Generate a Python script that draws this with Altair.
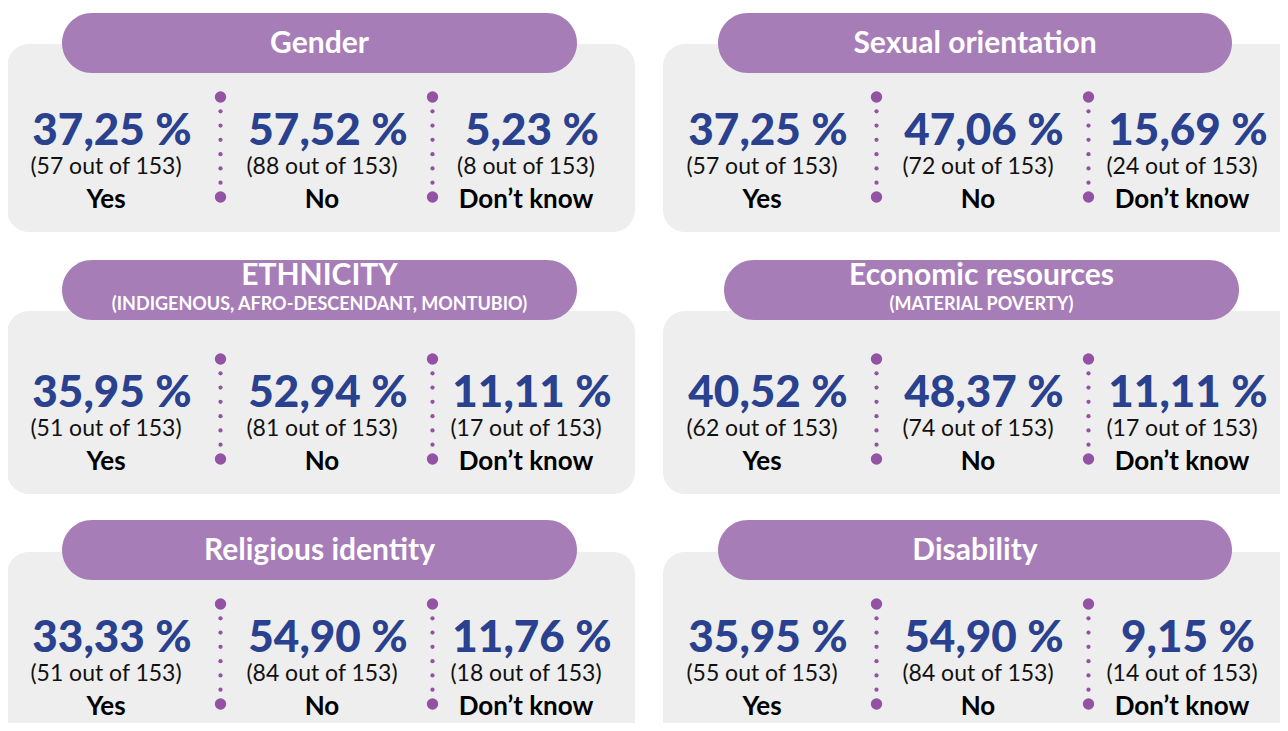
import altair as alt
import pandas as pd

# ---------------- data ----------------
categories = ["Gender", "Sexual orientation", "ETHNICITY", "Economic resources",
              "Religious identity", "Disability"]
subtitles = ["", "", "(INDIGENOUS, AFRO-DESCENDANT, MONTUBIO)", "(MATERIAL POVERTY)", "", ""]
answers = ["Yes", "No", "Don\u2019t know"]
yes_pct = [37.25, 37.25, 35.95, 40.52, 33.33, 35.95]
no_pct = [57.52, 47.06, 52.94, 48.37, 54.90, 54.90]
dk_pct = [5.23, 15.69, 11.11, 11.11, 11.76, 9.15]
yes_n = [57, 57, 51, 62, 51, 55]
no_n = [88, 72, 81, 74, 84, 84]
dk_n = [8, 24, 17, 17, 18, 14]
total = 153

# ---------------- layout ----------------
W, H = 1272, 715
col_dx = [0, 656]
row_dy = [0, 262, 507]
box_top = [44, 311, 552]
box_bot = [232, 494, 745]
pill_top = [13, 260, 520]
pill_h = 60
pill_x = {(0, 0): (62, 577), (0, 1): (718, 1232), (1, 0): (62, 577),
          (1, 1): (724, 1239), (2, 0): (62, 577), (2, 1): (718, 1232)}
box_x = [(7, 635), (663, 1300)]
col_cx = [106, 322, 526]
pct_shift = 6
sep_x = [220.5, 432.5]

boxes, pills, dots, texts = [], [], [], []
for i, cat in enumerate(categories):
    r, c = divmod(i, 2)
    dx, dy = col_dx[c], row_dy[r]
    boxes.append(dict(x=box_x[c][0], x2=box_x[c][1], y=box_top[r], y2=box_bot[r]))
    px0, px1 = pill_x[(r, c)]
    pills.append(dict(x=px0, x2=px1, y=pill_top[r], y2=pill_top[r] + pill_h))
    pcx = (px0 + px1) / 2
    if subtitles[i]:
        texts.append(dict(x=pcx, y=pill_top[r] + 25, t=cat, kind="title"))
        texts.append(dict(x=pcx, y=pill_top[r] + 50, t=subtitles[i], kind="sub"))
    else:
        texts.append(dict(x=pcx, y=pill_top[r] + 40, t=cat, kind="title"))
    pcts = [yes_pct[i], no_pct[i], dk_pct[i]]
    ns = [yes_n[i], no_n[i], dk_n[i]]
    for k in range(3):
        cx = col_cx[k] + dx
        texts.append(dict(x=cx + pct_shift, y=145 + dy,
                          t=f"{pcts[k]:.2f}".replace(".", ",") + " %", kind="pct"))
        texts.append(dict(x=cx, y=174 + dy, t=f"({ns[k]} out of {total})", kind="n"))
        texts.append(dict(x=cx, y=208 + dy, t=answers[k], kind="ans"))
    for sx in sep_x:
        for j in range(8):
            yy = 97 + dy + j * (100 / 7)
            dots.append(dict(x=sx + dx, y=yy, big=(j in (0, 7))))

boxes = pd.DataFrame(boxes)
pills = pd.DataFrame(pills)
dots = pd.DataFrame(dots)
texts = pd.DataFrame(texts)

xs = alt.Scale(domain=[8, 8 + W], nice=False, zero=False)
ys = alt.Scale(domain=[8, 8 + H], nice=False, zero=False, reverse=True)
X = lambda f: alt.X(f, type="quantitative", scale=xs, axis=None)
Y = lambda f: alt.Y(f, type="quantitative", scale=ys, axis=None)

grey = alt.Chart(boxes).mark_rect(cornerRadius=22, color="#eeeeee").encode(
    x=X("x"), x2="x2", y=Y("y"), y2="y2")
pill = alt.Chart(pills).mark_rect(cornerRadius=30, color="#a77db8").encode(
    x=X("x"), x2="x2", y=Y("y"), y2="y2")
big = alt.Chart(dots[dots.big]).mark_circle(size=130, color="#9352a3", opacity=1).encode(
    x=X("x"), y=Y("y"))
small = alt.Chart(dots[~dots.big]).mark_circle(size=18, color="#9352a3", opacity=1).encode(
    x=X("x"), y=Y("y"))

def txt(kind, size, weight, color):
    return alt.Chart(texts[texts.kind == kind]).mark_text(
        font="Lato", fontSize=size, fontWeight=weight, color=color,
        align="center", baseline="alphabetic").encode(x=X("x"), y=Y("y"), text="t:N")

layers = [grey, pill, small, big,
          txt("title", 30, "bold", "white"),
          txt("sub", 18, "bold", "white"),
          txt("pct", 44, 900, "#29418f"),
          txt("n", 23, "normal", "#111111"),
          txt("ans", 26, "bold", "#000000")]

chart = alt.layer(*layers).properties(
    width=W, height=H, padding=0, autosize=alt.AutoSizeParams(type="none"),
    background="white"
).configure_view(strokeWidth=0)

chart.save("out.html", embed_options={"renderer": "svg", "actions": False})
